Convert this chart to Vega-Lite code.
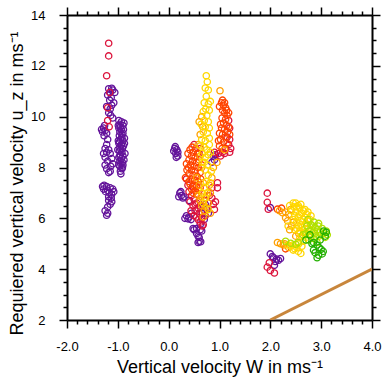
{
"$schema": "https://vega.github.io/schema/vega-lite/v6.json",
"width": 305, "height": 305,
"autosize": "none",
"padding": {"left": 67, "top": 15, "right": 12, "bottom": 58},
"background": "white",
"config": {"view": {"stroke": null}, "font": "Liberation Sans"},
"layer": [
{
"data": {"values": [
{"x":-1.18,"y":11.10,"g":"p"},{"x":-1.12,"y":11.12,"g":"p"},{"x":-1.10,"y":11.05,"g":"p"},{"x":-1.15,"y":10.95,"g":"p"},{"x":-1.20,"y":10.85,"g":"p"},{"x":-1.13,"y":10.75,"g":"p"},{"x":-1.16,"y":10.65,"g":"p"},{"x":-1.08,"y":10.55,"g":"p"},
{"x":-1.22,"y":10.40,"g":"p"},{"x":-1.15,"y":10.30,"g":"p"},{"x":-1.18,"y":10.15,"g":"p"},{"x":-1.14,"y":10.05,"g":"p"},{"x":-1.10,"y":9.95,"g":"p"},
{"x":-1.28,"y":9.55,"g":"p"},{"x":-1.25,"y":9.45,"g":"p"},{"x":-1.30,"y":9.40,"g":"p"},{"x":-1.22,"y":9.35,"g":"p"},{"x":-1.27,"y":9.25,"g":"p"},{"x":-1.20,"y":9.10,"g":"p"},
{"x":-1.25,"y":8.75,"g":"p"},{"x":-1.18,"y":8.70,"g":"p"},{"x":-1.22,"y":8.60,"g":"p"},{"x":-1.15,"y":8.55,"g":"p"},{"x":-1.25,"y":8.40,"g":"p"},{"x":-1.12,"y":8.35,"g":"p"},{"x":-1.20,"y":8.25,"g":"p"},{"x":-1.25,"y":8.10,"g":"p"},{"x":-1.14,"y":8.05,"g":"p"},{"x":-1.22,"y":7.95,"g":"p"},{"x":-1.15,"y":7.85,"g":"p"},
{"x":-1.27,"y":7.30,"g":"p"},{"x":-1.22,"y":7.25,"g":"p"},{"x":-1.28,"y":7.15,"g":"p"},{"x":-1.20,"y":7.10,"g":"p"},{"x":-1.15,"y":7.20,"g":"p"},{"x":-1.10,"y":7.15,"g":"p"},{"x":-1.17,"y":7.00,"g":"p"},{"x":-1.12,"y":6.95,"g":"p"},{"x":-1.18,"y":6.85,"g":"p"},{"x":-1.13,"y":6.80,"g":"p"},{"x":-1.18,"y":6.70,"g":"p"},{"x":-1.12,"y":6.65,"g":"p"},{"x":-1.20,"y":6.45,"g":"p"},{"x":-1.25,"y":6.30,"g":"p"},{"x":-1.20,"y":6.20,"g":"p"},{"x":-1.22,"y":6.12,"g":"p"},
{"x":-1.30,"y":7.25,"g":"p"},{"x":-1.24,"y":7.05,"g":"p"},{"x":-1.08,"y":7.05,"g":"p"},{"x":-1.15,"y":6.55,"g":"p"},{"x":-1.22,"y":8.90,"g":"p"},{"x":-1.28,"y":8.55,"g":"p"},{"x":-1.10,"y":8.15,"g":"p"},{"x":-1.18,"y":7.80,"g":"p"},{"x":-1.26,"y":9.65,"g":"p"},{"x":-1.32,"y":9.50,"g":"p"},{"x":-1.12,"y":10.45,"g":"p"},{"x":-1.06,"y":10.95,"g":"p"},
{"x":-0.98,"y":9.85,"g":"p"},{"x":-0.93,"y":9.80,"g":"p"},{"x":-0.96,"y":9.70,"g":"p"},{"x":-0.90,"y":9.65,"g":"p"},{"x":-0.98,"y":9.55,"g":"p"},{"x":-0.93,"y":9.50,"g":"p"},{"x":-0.96,"y":9.40,"g":"p"},{"x":-0.90,"y":9.35,"g":"p"},{"x":-0.97,"y":9.25,"g":"p"},{"x":-0.92,"y":9.20,"g":"p"},{"x":-0.95,"y":9.10,"g":"p"},{"x":-0.90,"y":9.05,"g":"p"},{"x":-0.98,"y":8.95,"g":"p"},{"x":-0.93,"y":8.90,"g":"p"},{"x":-0.96,"y":8.80,"g":"p"},{"x":-0.91,"y":8.75,"g":"p"},{"x":-0.97,"y":8.65,"g":"p"},{"x":-0.92,"y":8.60,"g":"p"},{"x":-0.95,"y":8.50,"g":"p"},{"x":-0.90,"y":8.45,"g":"p"},{"x":-0.98,"y":8.40,"g":"p"},{"x":-0.93,"y":8.35,"g":"p"},{"x":-0.96,"y":8.25,"g":"p"},{"x":-0.88,"y":8.30,"g":"p"},{"x":-0.94,"y":8.15,"g":"p"},{"x":-0.90,"y":8.10,"g":"p"},{"x":-0.96,"y":8.05,"g":"p"},{"x":-0.92,"y":7.95,"g":"p"},{"x":-0.95,"y":7.85,"g":"p"},
{"x":-0.88,"y":9.75,"g":"p"},{"x":-0.87,"y":9.15,"g":"p"},{"x":-0.86,"y":8.55,"g":"p"},{"x":-0.99,"y":9.05,"g":"p"},{"x":-1.00,"y":8.70,"g":"p"},{"x":-0.94,"y":7.75,"g":"p"},{"x":-0.91,"y":8.00,"g":"p"},
{"x":-0.95,"y":9.60,"g":"p"},{"x":-0.92,"y":9.30,"g":"p"},{"x":-0.97,"y":9.00,"g":"p"},{"x":-0.94,"y":8.70,"g":"p"},{"x":-0.89,"y":8.85,"g":"p"},{"x":-0.96,"y":8.45,"g":"p"},{"x":-0.91,"y":8.20,"g":"p"},{"x":-0.98,"y":8.10,"g":"p"},{"x":-0.89,"y":9.50,"g":"p"},{"x":-0.87,"y":8.95,"g":"p"},{"x":-0.99,"y":9.65,"g":"p"},
{"x":0.12,"y":8.75,"g":"p"},{"x":0.16,"y":8.70,"g":"p"},{"x":0.14,"y":8.55,"g":"p"},{"x":0.18,"y":8.45,"g":"p"},{"x":0.15,"y":8.40,"g":"p"},{"x":0.22,"y":7.00,"g":"p"},{"x":0.25,"y":6.90,"g":"p"},{"x":0.20,"y":6.85,"g":"p"},{"x":0.28,"y":6.80,"g":"p"},{"x":0.35,"y":6.10,"g":"p"},{"x":0.40,"y":6.05,"g":"p"},{"x":0.38,"y":5.98,"g":"p"},{"x":0.44,"y":5.95,"g":"p"},{"x":0.55,"y":5.40,"g":"p"},{"x":0.60,"y":5.10,"g":"p"},{"x":0.58,"y":5.05,"g":"p"},{"x":0.63,"y":5.08,"g":"p"},{"x":0.55,"y":5.60,"g":"p"},{"x":0.62,"y":5.75,"g":"p"},{"x":0.70,"y":5.95,"g":"p"},{"x":0.68,"y":6.45,"g":"p"},{"x":0.72,"y":6.55,"g":"p"},{"x":0.78,"y":6.20,"g":"p"},{"x":0.88,"y":8.45,"g":"p"},{"x":0.90,"y":8.30,"g":"p"},{"x":0.30,"y":6.85,"g":"p"},{"x":0.48,"y":5.60,"g":"p"},{"x":0.60,"y":5.25,"g":"p"},{"x":0.65,"y":5.50,"g":"p"},
{"x":0.10,"y":8.65,"g":"p"},{"x":0.13,"y":8.82,"g":"p"},{"x":0.18,"y":8.60,"g":"p"},{"x":0.24,"y":7.05,"g":"p"},{"x":0.32,"y":6.00,"g":"p"},{"x":0.50,"y":5.55,"g":"p"},{"x":0.58,"y":5.30,"g":"p"},{"x":0.62,"y":5.55,"g":"p"},{"x":0.75,"y":6.35,"g":"p"},{"x":0.66,"y":6.20,"g":"p"},{"x":0.85,"y":8.20,"g":"p"},{"x":0.92,"y":8.50,"g":"p"},{"x":0.40,"y":6.70,"g":"p"},{"x":0.45,"y":6.20,"g":"p"},
{"x":2.00,"y":6.42,"g":"p"},{"x":2.00,"y":4.60,"g":"p"},{"x":2.06,"y":4.45,"g":"p"},{"x":2.12,"y":4.40,"g":"p"},{"x":2.16,"y":4.35,"g":"p"},{"x":2.20,"y":4.42,"g":"p"},{"x":2.10,"y":4.30,"g":"p"},{"x":2.08,"y":4.15,"g":"p"},{"x":2.04,"y":4.50,"g":"p"},
{"x":-1.18,"y":12.89,"g":"c"},{"x":-1.18,"y":12.39,"g":"c"},{"x":-1.22,"y":11.61,"g":"c"},{"x":-1.16,"y":10.95,"g":"c"},{"x":-1.20,"y":10.35,"g":"c"},{"x":-1.20,"y":9.85,"g":"c"},{"x":-1.17,"y":9.60,"g":"c"},
{"x":1.18,"y":9.85,"g":"c"},{"x":1.20,"y":9.55,"g":"c"},{"x":1.15,"y":9.20,"g":"c"},{"x":1.18,"y":8.90,"g":"c"},{"x":1.12,"y":8.75,"g":"c"},{"x":1.20,"y":8.60,"g":"c"},{"x":1.06,"y":8.60,"g":"c"},{"x":0.98,"y":8.55,"g":"c"},{"x":0.90,"y":8.60,"g":"c"},
{"x":1.20,"y":9.10,"g":"c"},{"x":1.22,"y":8.75,"g":"c"},{"x":1.10,"y":8.55,"g":"c"},{"x":1.02,"y":8.45,"g":"c"},
{"x":0.40,"y":7.05,"g":"c"},{"x":0.45,"y":6.90,"g":"c"},{"x":0.50,"y":6.75,"g":"c"},{"x":0.55,"y":6.60,"g":"c"},{"x":0.48,"y":6.50,"g":"c"},{"x":0.58,"y":6.40,"g":"c"},{"x":0.52,"y":6.30,"g":"c"},{"x":0.60,"y":6.20,"g":"c"},{"x":0.55,"y":6.05,"g":"c"},{"x":0.65,"y":6.00,"g":"c"},{"x":0.62,"y":5.85,"g":"c"},{"x":0.68,"y":5.75,"g":"c"},{"x":0.38,"y":7.30,"g":"c"},{"x":0.35,"y":7.55,"g":"c"},{"x":0.42,"y":6.65,"g":"c"},{"x":0.96,"y":7.40,"g":"c"},{"x":0.96,"y":7.20,"g":"c"},{"x":0.85,"y":6.80,"g":"c"},{"x":0.88,"y":6.55,"g":"c"},{"x":0.90,"y":6.35,"g":"c"},{"x":0.80,"y":6.90,"g":"c"},{"x":0.72,"y":6.10,"g":"c"},{"x":0.60,"y":8.55,"g":"c"},{"x":0.62,"y":8.75,"g":"c"},{"x":0.50,"y":8.90,"g":"c"},
{"x":0.44,"y":6.30,"g":"c"},{"x":0.50,"y":6.10,"g":"c"},{"x":0.58,"y":5.95,"g":"c"},{"x":0.66,"y":6.25,"g":"c"},{"x":0.70,"y":6.70,"g":"c"},{"x":0.75,"y":6.40,"g":"c"},{"x":0.62,"y":6.50,"g":"c"},{"x":0.52,"y":6.55,"g":"c"},{"x":0.47,"y":7.25,"g":"c"},{"x":0.66,"y":5.70,"g":"c"},{"x":0.85,"y":7.20,"g":"c"},{"x":0.92,"y":6.65,"g":"c"},
{"x":1.94,"y":6.99,"g":"c"},{"x":1.94,"y":6.63,"g":"c"},{"x":1.96,"y":6.36,"g":"c"},{"x":1.94,"y":4.08,"g":"c"},{"x":2.00,"y":3.95,"g":"c"},{"x":2.08,"y":3.85,"g":"c"},{"x":1.98,"y":4.25,"g":"c"},
{"x":1.04,"y":10.55,"g":"r"},{"x":1.08,"y":10.45,"g":"r"},{"x":1.12,"y":10.35,"g":"r"},{"x":1.06,"y":10.25,"g":"r"},{"x":1.10,"y":10.15,"g":"r"},{"x":1.15,"y":10.05,"g":"r"},{"x":1.05,"y":9.95,"g":"r"},{"x":1.12,"y":9.90,"g":"r"},{"x":1.08,"y":9.75,"g":"r"},{"x":1.14,"y":9.65,"g":"r"},{"x":1.04,"y":9.55,"g":"r"},{"x":1.10,"y":9.50,"g":"r"},{"x":1.16,"y":9.40,"g":"r"},{"x":1.06,"y":9.30,"g":"r"},{"x":1.12,"y":9.20,"g":"r"},{"x":1.02,"y":9.10,"g":"r"},{"x":1.08,"y":9.00,"g":"r"},{"x":1.15,"y":8.95,"g":"r"},{"x":1.00,"y":8.85,"g":"r"},{"x":1.05,"y":8.75,"g":"r"},
{"x":1.00,"y":10.40,"g":"r"},{"x":1.14,"y":10.25,"g":"r"},{"x":1.18,"y":10.15,"g":"r"},{"x":1.02,"y":9.70,"g":"r"},{"x":1.18,"y":9.60,"g":"r"},{"x":1.00,"y":9.35,"g":"r"},{"x":1.20,"y":9.30,"g":"r"},{"x":0.98,"y":9.05,"g":"r"},{"x":1.10,"y":10.55,"g":"r"},{"x":1.06,"y":10.65,"g":"r"},
{"x":0.42,"y":8.70,"g":"r"},{"x":0.48,"y":8.60,"g":"r"},{"x":0.45,"y":8.45,"g":"r"},{"x":0.52,"y":8.40,"g":"r"},{"x":0.40,"y":8.30,"g":"r"},{"x":0.47,"y":8.25,"g":"r"},{"x":0.55,"y":8.20,"g":"r"},{"x":0.43,"y":8.10,"g":"r"},{"x":0.50,"y":8.05,"g":"r"},{"x":0.58,"y":8.00,"g":"r"},{"x":0.45,"y":7.90,"g":"r"},{"x":0.52,"y":7.85,"g":"r"},{"x":0.40,"y":7.75,"g":"r"},{"x":0.48,"y":7.70,"g":"r"},{"x":0.56,"y":7.65,"g":"r"},{"x":0.44,"y":7.55,"g":"r"},{"x":0.51,"y":7.50,"g":"r"},{"x":0.58,"y":7.45,"g":"r"},{"x":0.42,"y":7.35,"g":"r"},{"x":0.49,"y":7.30,"g":"r"},{"x":0.55,"y":7.25,"g":"r"},{"x":0.45,"y":7.15,"g":"r"},{"x":0.52,"y":7.10,"g":"r"},{"x":0.48,"y":7.00,"g":"r"},{"x":0.55,"y":6.95,"g":"r"},{"x":0.62,"y":7.80,"g":"r"},{"x":0.60,"y":8.30,"g":"r"},{"x":0.36,"y":7.90,"g":"r"},
{"x":0.38,"y":8.55,"g":"r"},{"x":0.35,"y":8.15,"g":"r"},{"x":0.33,"y":7.60,"g":"r"},{"x":0.40,"y":7.45,"g":"r"},{"x":0.60,"y":7.10,"g":"r"},{"x":0.63,"y":7.55,"g":"r"},{"x":0.65,"y":8.10,"g":"r"},{"x":0.57,"y":8.55,"g":"r"},{"x":0.53,"y":8.75,"g":"r"},{"x":0.46,"y":8.80,"g":"r"},{"x":0.39,"y":8.00,"g":"r"},{"x":0.62,"y":7.20,"g":"r"},
{"x":2.14,"y":6.36,"g":"r"},{"x":2.30,"y":4.80,"g":"r"},{"x":2.22,"y":6.40,"g":"r"},
{"x":1.01,"y":11.02,"g":"o"},{"x":0.67,"y":9.60,"g":"o"},{"x":0.62,"y":9.30,"g":"o"},{"x":0.58,"y":8.90,"g":"o"},{"x":0.55,"y":7.60,"g":"o"},{"x":0.60,"y":7.30,"g":"o"},{"x":0.58,"y":6.90,"g":"o"},{"x":0.62,"y":6.70,"g":"o"},{"x":0.65,"y":6.50,"g":"o"},{"x":0.70,"y":6.30,"g":"o"},{"x":0.78,"y":6.60,"g":"o"},{"x":0.82,"y":7.00,"g":"o"},{"x":0.85,"y":7.60,"g":"o"},{"x":0.88,"y":8.00,"g":"o"},{"x":0.95,"y":8.20,"g":"o"},{"x":1.10,"y":8.70,"g":"o"},{"x":0.65,"y":10.00,"g":"o"},{"x":0.60,"y":9.80,"g":"o"},
{"x":0.62,"y":8.45,"g":"o"},{"x":0.65,"y":8.00,"g":"o"},{"x":0.68,"y":7.40,"g":"o"},{"x":0.64,"y":6.85,"g":"o"},{"x":0.72,"y":6.45,"g":"o"},{"x":0.75,"y":6.90,"g":"o"},{"x":0.80,"y":7.30,"g":"o"},{"x":0.68,"y":6.05,"g":"o"},{"x":0.82,"y":6.20,"g":"o"},
{"x":2.24,"y":6.22,"g":"o"},{"x":2.30,"y":6.02,"g":"o"},{"x":2.18,"y":6.30,"g":"o"},{"x":2.36,"y":6.15,"g":"o"},{"x":2.14,"y":5.05,"g":"o"},{"x":2.20,"y":5.00,"g":"o"},{"x":2.26,"y":4.95,"g":"o"},{"x":2.40,"y":6.35,"g":"o"},{"x":2.45,"y":5.85,"g":"o"},{"x":2.38,"y":5.55,"g":"o"},{"x":2.50,"y":5.30,"g":"o"},
{"x":2.30,"y":6.25,"g":"o"},{"x":2.34,"y":5.90,"g":"o"},{"x":2.42,"y":5.70,"g":"o"},{"x":2.28,"y":5.00,"g":"o"},{"x":2.36,"y":4.85,"g":"o"},{"x":2.56,"y":5.40,"g":"o"},
{"x":0.74,"y":11.61,"g":"y"},{"x":0.76,"y":11.37,"g":"y"},{"x":0.72,"y":11.13,"g":"y"},{"x":0.78,"y":11.05,"g":"y"},{"x":0.74,"y":10.80,"g":"y"},{"x":0.70,"y":10.55,"g":"y"},{"x":0.78,"y":10.50,"g":"y"},{"x":0.73,"y":10.30,"g":"y"},{"x":0.80,"y":10.25,"g":"y"},{"x":0.75,"y":10.05,"g":"y"},{"x":0.70,"y":9.85,"g":"y"},{"x":0.78,"y":9.80,"g":"y"},{"x":0.72,"y":9.60,"g":"y"},{"x":0.80,"y":9.55,"g":"y"},{"x":0.68,"y":9.40,"g":"y"},{"x":0.76,"y":9.35,"g":"y"},{"x":0.65,"y":9.10,"g":"y"},{"x":0.72,"y":9.05,"g":"y"},{"x":0.80,"y":9.15,"g":"y"},{"x":0.62,"y":8.85,"g":"y"},{"x":0.70,"y":8.80,"g":"y"},{"x":0.75,"y":8.70,"g":"y"},{"x":0.66,"y":8.55,"g":"y"},{"x":0.72,"y":8.40,"g":"y"},{"x":0.78,"y":8.50,"g":"y"},{"x":0.70,"y":8.20,"g":"y"},{"x":0.76,"y":8.10,"g":"y"},{"x":0.72,"y":7.90,"g":"y"},{"x":0.78,"y":7.70,"g":"y"},{"x":0.74,"y":7.45,"g":"y"},{"x":0.70,"y":7.20,"g":"y"},{"x":0.76,"y":7.00,"g":"y"},{"x":0.72,"y":6.80,"g":"y"},{"x":0.68,"y":6.60,"g":"y"},
{"x":0.80,"y":8.90,"g":"y"},{"x":0.82,"y":8.60,"g":"y"},{"x":0.66,"y":8.20,"g":"y"},{"x":0.82,"y":7.40,"g":"y"},{"x":0.66,"y":7.00,"g":"y"},{"x":0.78,"y":6.35,"g":"y"},{"x":0.84,"y":7.85,"g":"y"},{"x":0.64,"y":9.70,"g":"y"},{"x":0.82,"y":10.60,"g":"y"},{"x":0.68,"y":10.20,"g":"y"},
{"x":2.38,"y":6.50,"g":"y"},{"x":2.45,"y":6.60,"g":"y"},{"x":2.52,"y":6.45,"g":"y"},{"x":2.42,"y":6.30,"g":"y"},{"x":2.50,"y":6.25,"g":"y"},{"x":2.58,"y":6.40,"g":"y"},{"x":2.48,"y":6.10,"g":"y"},{"x":2.55,"y":6.05,"g":"y"},{"x":2.62,"y":6.20,"g":"y"},{"x":2.45,"y":5.95,"g":"y"},{"x":2.52,"y":5.85,"g":"y"},{"x":2.60,"y":5.90,"g":"y"},{"x":2.68,"y":6.05,"g":"y"},{"x":2.55,"y":5.70,"g":"y"},{"x":2.63,"y":5.65,"g":"y"},{"x":2.70,"y":5.80,"g":"y"},{"x":2.58,"y":5.50,"g":"y"},{"x":2.66,"y":5.45,"g":"y"},{"x":2.75,"y":5.60,"g":"y"},{"x":2.62,"y":5.30,"g":"y"},{"x":2.70,"y":5.25,"g":"y"},{"x":2.48,"y":5.55,"g":"y"},{"x":2.40,"y":4.90,"g":"y"},{"x":2.48,"y":4.80,"g":"y"},{"x":2.55,"y":4.70,"g":"y"},{"x":2.60,"y":4.62,"g":"y"},{"x":2.44,"y":4.95,"g":"y"},{"x":2.52,"y":4.85,"g":"y"},{"x":2.35,"y":5.70,"g":"y"},{"x":2.65,"y":6.30,"g":"y"},{"x":2.72,"y":6.15,"g":"y"},{"x":2.78,"y":5.95,"g":"y"},
{"x":2.55,"y":6.50,"g":"y"},{"x":2.60,"y":6.55,"g":"y"},{"x":2.46,"y":6.45,"g":"y"},{"x":2.68,"y":6.35,"g":"y"},{"x":2.74,"y":6.25,"g":"y"},{"x":2.80,"y":6.10,"g":"y"},{"x":2.57,"y":6.15,"g":"y"},{"x":2.66,"y":5.95,"g":"y"},{"x":2.73,"y":5.90,"g":"y"},{"x":2.60,"y":5.75,"g":"y"},{"x":2.68,"y":5.60,"g":"y"},{"x":2.52,"y":5.60,"g":"y"},{"x":2.58,"y":5.25,"g":"y"},{"x":2.75,"y":5.35,"g":"y"},{"x":2.82,"y":5.55,"g":"y"},{"x":2.65,"y":5.10,"g":"y"},{"x":2.56,"y":5.00,"g":"y"},{"x":2.62,"y":4.90,"g":"y"},{"x":2.45,"y":4.75,"g":"y"},{"x":2.35,"y":4.95,"g":"y"},{"x":2.50,"y":6.60,"g":"y"},
{"x":2.72,"y":5.70,"g":"l"},{"x":2.80,"y":5.75,"g":"l"},{"x":2.88,"y":5.65,"g":"l"},{"x":2.76,"y":5.50,"g":"l"},{"x":2.84,"y":5.45,"g":"l"},{"x":2.92,"y":5.55,"g":"l"},{"x":2.98,"y":5.45,"g":"l"},{"x":2.80,"y":5.30,"g":"l"},{"x":2.90,"y":5.30,"g":"l"},{"x":3.00,"y":5.35,"g":"l"},{"x":3.05,"y":5.40,"g":"l"},{"x":3.08,"y":5.25,"g":"l"},{"x":2.86,"y":5.85,"g":"l"},{"x":2.95,"y":5.80,"g":"l"},{"x":2.40,"y":5.02,"g":"l"},{"x":2.50,"y":4.98,"g":"l"},{"x":2.30,"y":5.10,"g":"l"},{"x":2.74,"y":5.95,"g":"l"},{"x":3.10,"y":5.50,"g":"l"},
{"x":2.84,"y":5.70,"g":"l"},{"x":2.94,"y":5.70,"g":"l"},{"x":3.02,"y":5.60,"g":"l"},{"x":2.88,"y":5.40,"g":"l"},{"x":2.96,"y":5.30,"g":"l"},{"x":2.85,"y":5.20,"g":"l"},{"x":2.75,"y":5.15,"g":"l"},{"x":3.12,"y":5.35,"g":"l"},{"x":2.70,"y":5.40,"g":"l"},{"x":2.64,"y":5.35,"g":"l"},{"x":2.92,"y":5.05,"g":"l"},{"x":2.55,"y":5.05,"g":"l"},
{"x":2.78,"y":5.35,"g":"n"},{"x":3.05,"y":5.50,"g":"n"},{"x":2.85,"y":5.05,"g":"n"},{"x":2.92,"y":4.95,"g":"n"},{"x":2.96,"y":4.85,"g":"n"},{"x":3.00,"y":4.78,"g":"n"},{"x":3.04,"y":4.70,"g":"n"},{"x":2.88,"y":4.65,"g":"n"},{"x":2.92,"y":4.45,"g":"n"},{"x":3.08,"y":5.30,"g":"n"},{"x":2.98,"y":5.15,"g":"n"},{"x":2.70,"y":5.15,"g":"n"},
{"x":2.82,"y":5.00,"g":"n"},{"x":3.10,"y":5.45,"g":"n"},{"x":3.02,"y":4.60,"g":"n"},{"x":2.85,"y":4.75,"g":"n"},{"x":2.95,"y":4.55,"g":"n"}
]},
"mark": {"type": "point", "filled": false, "size": 40, "strokeWidth": 1.3, "opacity": 1},
"encoding": {
"x": {"field": "x", "type": "quantitative", "scale": {"domain": [-2, 4], "nice": false, "zero": false},
 "axis": {"orient": "bottom", "grid": false,
  "values": [-2,-1.8,-1.6,-1.4,-1.2,-1,-0.8,-0.6,-0.4,-0.2,0,0.2,0.4,0.6,0.8,1,1.2,1.4,1.6,1.8,2,2.2,2.4,2.6,2.8,3,3.2,3.4,3.6,3.8,4],
  "labelExpr": "abs(datum.value - round(datum.value)) < 0.01 ? (datum.value < 0 ? '-' + format(abs(datum.value), '.1f') : format(datum.value, '.1f')) : ''",
  "tickSize": {"condition": {"test": "abs(datum.value - round(datum.value)) < 0.01", "value": 8}, "value": 4},
  "tickWidth": 1.5, "tickColor": "black", "domainColor": "black", "domainWidth": 2,
  "labelFontSize": 13, "labelColor": "black", "labelPadding": 12, "labelFlush": false, "labelOverlap": false,
  "title": "Vertical velocity W in ms⁻¹", "titleFontSize": 18, "titleFontWeight": "normal", "titleColor": "black", "titlePadding": 5}},
"y": {"field": "y", "type": "quantitative", "scale": {"domain": [2, 14], "nice": false, "zero": false},
 "axis": {"orient": "left", "grid": false,
  "values": [2,2.5,3,3.5,4,4.5,5,5.5,6,6.5,7,7.5,8,8.5,9,9.5,10,10.5,11,11.5,12,12.5,13,13.5,14],
  "labelExpr": "datum.value % 2 === 0 ? format(datum.value, 'd') : ''",
  "tickSize": {"condition": {"test": "datum.value % 2 === 0", "value": 8}, "value": 4},
  "tickWidth": 1.5, "tickColor": "black", "domainColor": "black", "domainWidth": 2,
  "labelFontSize": 13, "labelColor": "black", "labelPadding": 14, "labelOverlap": false, "labelFlush": false,
  "title": "Requiered vertical velocity u_z in ms⁻¹", "titleFontSize": 18, "titleFontWeight": "normal", "titleColor": "black", "titlePadding": 4, "titleY": 168}},
"color": {"field": "g", "type": "nominal", "legend": null,
 "scale": {"domain": ["p","c","r","o","y","l","n"], "range": ["#63139a","#dc143c","#ff4500","#ffa000","#ffd700","#b0e000","#22b000"]}}
}
},
{
"data": {"values": [{"x": 2, "y": 2}, {"x": 4, "y": 4}]},
"mark": {"type": "line", "color": "#c8863c", "strokeWidth": 3, "clip": true},
"encoding": {
"x": {"field": "x", "type": "quantitative",
 "axis": {"orient": "top", "grid": false, "labels": false, "title": null,
  "values": [-2,-1.8,-1.6,-1.4,-1.2,-1,-0.8,-0.6,-0.4,-0.2,0,0.2,0.4,0.6,0.8,1,1.2,1.4,1.6,1.8,2,2.2,2.4,2.6,2.8,3,3.2,3.4,3.6,3.8,4],
  "tickSize": {"condition": {"test": "abs(datum.value - round(datum.value)) < 0.01", "value": 8}, "value": 4},
  "tickWidth": 1.5, "tickColor": "black", "domainColor": "black", "domainWidth": 2}},
"y": {"field": "y", "type": "quantitative",
 "axis": {"orient": "right", "grid": false, "labels": false, "title": null,
  "values": [2,2.5,3,3.5,4,4.5,5,5.5,6,6.5,7,7.5,8,8.5,9,9.5,10,10.5,11,11.5,12,12.5,13,13.5,14],
  "tickSize": {"condition": {"test": "datum.value % 2 === 0", "value": 8}, "value": 4},
  "tickWidth": 1.5, "tickColor": "black", "domainColor": "black", "domainWidth": 2}}
}
}
],
"resolve": {"axis": {"x": "independent", "y": "independent"}}
}
